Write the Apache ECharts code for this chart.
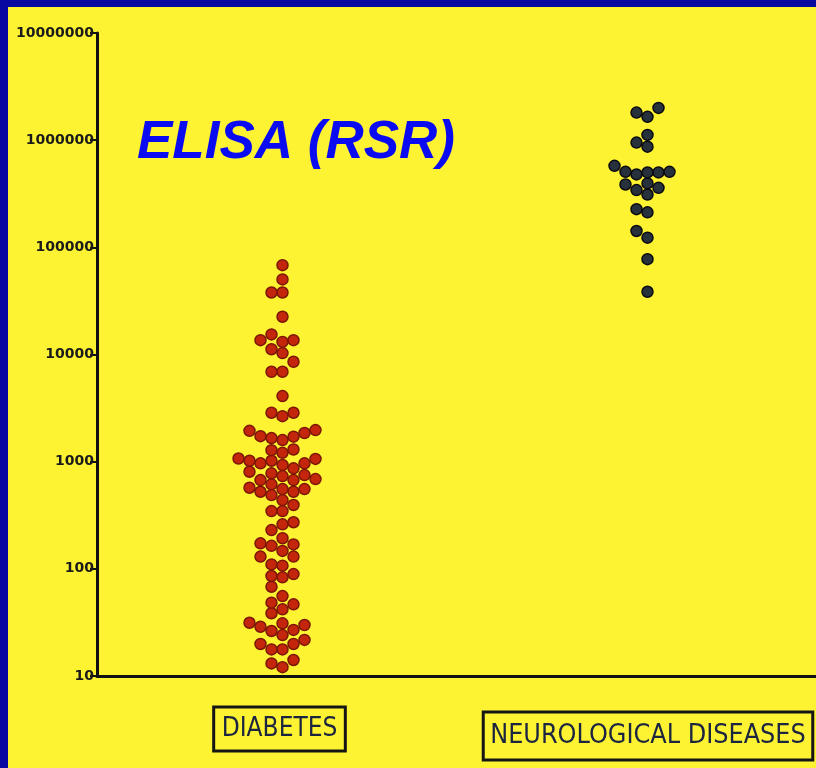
<!DOCTYPE html>
<html>
<head>
<meta charset="utf-8">
<script src="https://cdn.jsdelivr.net/npm/echarts@6/dist/echarts.min.js"></script>
<style>
html, body { margin: 0; padding: 0; width: 816px; height: 768px; background: #0808a0; overflow: hidden; }
#main { position: absolute; left: 8px; top: 7px; width: 808px; height: 761px; }
</style>
</head>
<body>
<div id="main"></div>
<script>
const categories = ["DIABETES", "NEUROLOGICAL DISEASES"];
const yTicks = [10, 100, 1000, 10000, 100000, 1000000, 10000000];

const diabetesValues = [
  68200, 50200, 37900, 37900, 22500, 15400, 13600, 13600, 13100, 11200, 10300, 8550, 6900, 6900,
  4090, 2860, 2860, 2660, 1970, 1940, 1850, 1730, 1710, 1660, 1590, 1300, 1280, 1210,
  1070, 1060, 1020, 1020, 964, 964, 930, 866, 805, 778,
  750, 734, 688, 673, 673,
  614, 571, 555, 555, 524, 524, 488, 438, 394, 346, 346, 272, 260, 230,
  193, 173, 169, 164, 147, 130, 130, 110, 107,
  89.4, 85.7, 83.3, 68.1, 55.7, 48.3, 46.6, 41.9, 38.5,
  31.4, 31.0, 29.9, 28.8, 26.9, 26.3, 24.1, 21.7, 19.9, 19.9, 17.7, 17.7, 14.1, 13.1, 12.1
];
const neuroValues = [
  2000000, 1810000, 1650000, 1120000, 950000, 870000,
  576000, 506000, 506000, 500000, 500000, 479000,
  395000, 386000, 359000, 342000, 311000,
  227000, 212000, 142000, 123000, 77600, 38500
];

const DOT = 11;      // dot diameter, px
const GAP = 10.5;    // min vertical distance between dots of one column

const chart = echarts.init(document.getElementById("main"));

const boxStyle = {
  fontFamily: "'DejaVu Sans Condensed', 'Liberation Sans', sans-serif",
  fontSize: 26,
  color: "#1b2540",
  borderColor: "#151515",
  borderWidth: 3,
};

const option = {
  backgroundColor: "#fdf332",
  animation: false,
  title: {
    text: "ELISA (RSR)",
    left: 129,
    top: 110,
    padding: 0,
    textStyle: {
      fontFamily: "'Liberation Sans', Arial, sans-serif",
      fontSize: 53,
      fontWeight: "bold",
      fontStyle: "italic",
      color: "#0b0bf2",
    },
  },
  grid: { left: 89, top: 26, right: -11, bottom: 92, outerBoundsMode: "none", containLabel: false },
  xAxis: {
    type: "category",
    data: [
      { value: categories[0] },
      { value: categories[1], textStyle: { padding: [5, 0, 0, 7] } },
    ],
    axisLine: { lineStyle: { color: "#111", width: 3 } },
    axisTick: { alignWithLabel: true, length: 9, lineStyle: { color: "#111", width: 2.5 } },
    axisLabel: {
      margin: 31,
      hideOverlap: false,
      formatter: (v) => (v === categories[0] ? "{d|" + v + "}" : "{n|" + v + "}"),
      rich: {
        d: Object.assign({}, boxStyle, { height: 36, padding: [4, 8, 4, 8] }),
        n: Object.assign({}, boxStyle, { fontSize: 26.7, height: 40, padding: [4, 7, 4, 7] }),
      },
    },
    splitLine: { show: false },
  },
  yAxis: {
    type: "log",
    logBase: 10,
    min: yTicks[0],
    max: yTicks[yTicks.length - 1],
    interval: 1,
    axisLine: { show: true, lineStyle: { color: "#111", width: 3 } },
    axisTick: { show: true, length: 7, lineStyle: { color: "#111", width: 2 } },
    minorTick: { show: false },
    splitLine: { show: false },
    axisLabel: {
      margin: 3,
      fontFamily: "'DejaVu Sans', sans-serif",
      fontWeight: "bold",
      fontSize: 14,
      color: "#1a1a1a",
      formatter: (v) => String(Math.round(v)),
    },
  },
  series: [],
};

chart.setOption(option);

// simple beeswarm: sort bottom-up, put each dot in the nearest free column
function swarm(values, cat) {
  const placed = [];
  return values
    .slice()
    .sort((a, b) => a - b)
    .map((v) => {
      const py = chart.convertToPixel({ yAxisIndex: 0 }, v);
      let col = 0;
      for (let k = 0; k < 40; k++) {
        const c = k === 0 ? 0 : k % 2 ? -Math.ceil(k / 2) : k / 2;
        if (!placed.some((p) => p.col === c && Math.abs(p.py - py) < GAP)) {
          col = c;
          break;
        }
      }
      placed.push({ col, py });
      return { value: [cat, v], symbolOffset: [col * DOT + 3, 0] };
    });
}

chart.setOption({
  series: [
    {
      name: categories[0],
      type: "scatter",
      symbolSize: DOT,
      itemStyle: { color: "#c4260c", borderColor: "#7c1606", borderWidth: 1.5, opacity: 1 },
      data: swarm(diabetesValues, categories[0]),
    },
    {
      name: categories[1],
      type: "scatter",
      symbolSize: DOT,
      itemStyle: { color: "#27313b", borderColor: "#0a0a10", borderWidth: 1.5, opacity: 1 },
      data: swarm(neuroValues, categories[1]),
    },
  ],
});
</script>
</body>
</html>
